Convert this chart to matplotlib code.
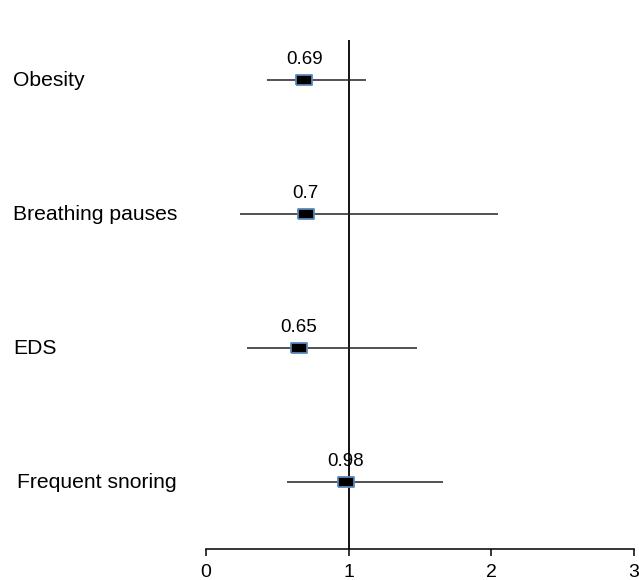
import matplotlib
matplotlib.use("Agg")
import matplotlib.pyplot as plt
from matplotlib.transforms import blended_transform_factory

plt.rcParams['font.family'] = ['Liberation Sans', 'DejaVu Sans']

# forest plot values (odds ratio with CI)
factors = ['Obesity', 'Breathing pauses', 'EDS', 'Frequent snoring']
odds = [0.69, 0.70, 0.65, 0.98]
ci_low = [0.43, 0.24, 0.29, 0.57]
ci_high = [1.12, 2.05, 1.48, 1.66]
odds_labels = ['0.69', '0.7', '0.65', '0.98']
xticks = [0, 1, 2, 3]

rows = list(range(len(factors), 0, -1))

fig = plt.figure(figsize=(6.39, 5.80), dpi=100)
ax = fig.add_axes([206 / 639, 31 / 580, 428 / 639, 509 / 580])

ax.axvline(1, color='black', lw=1.3, zorder=1)
ax.hlines(rows, ci_low, ci_high, color='#222222', lw=1.1, zorder=2)

box = [(-1.5, -1), (1.5, -1), (1.5, 1), (-1.5, 1), (-1.5, -1)]
ax.plot(odds, rows, linestyle='none', marker=box, markersize=11.5,
        markerfacecolor='black', markeredgecolor='#5b88bb',
        markeredgewidth=1.3, zorder=3)

for x, y, lab in zip(odds, rows, odds_labels):
    ax.annotate(lab, (x, y), xytext=(0, 15), textcoords='offset points',
                ha='center', va='center', fontsize=13.5)

trans = blended_transform_factory(fig.transFigure, ax.transData)
for name, y in zip(factors, rows):
    xoff = 17 if name == 'Frequent snoring' else 13
    ax.text(xoff / 639, y, name, transform=trans, ha='left', va='center',
            fontsize=15.2)

ax.set_xlim(0, 3)
ax.set_ylim(0.5, 4.3)
ax.set_xticks(xticks)
ax.set_xticklabels([str(t) for t in xticks], fontsize=14)
ax.set_yticks([])
for side in ['left', 'right', 'top']:
    ax.spines[side].set_visible(False)
ax.spines['bottom'].set_linewidth(1.1)
ax.tick_params(axis='x', length=5, width=1.1, pad=6)

fig.savefig('out.png', dpi=100)
